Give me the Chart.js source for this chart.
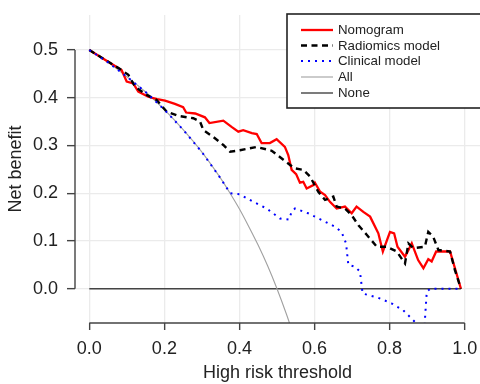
<!DOCTYPE html>
<html>
<head>
<meta charset="utf-8">
<script src="https://cdn.jsdelivr.net/npm/chart.js@4/dist/chart.umd.min.js"></script>
<style>
html,body{margin:0;padding:0;background:#fff;}
#wrap{width:480px;height:384px;position:relative;}
</style>
</head>
<body>
<div id="wrap"><canvas id="c" width="480" height="384"></canvas></div>
<script>
// ---- data ----
const xTicks = [0, 0.2, 0.4, 0.6, 0.8, 1.0];
const yTicks = [0, 0.1, 0.2, 0.3, 0.4, 0.5];

const nomoX = [0, 0.086, 0.0996, 0.117, 0.1305, 0.157, 0.181, 0.2017, 0.228, 0.250, 0.258, 0.282, 0.308, 0.320, 0.357, 0.379, 0.397, 0.410, 0.433, 0.446, 0.459, 0.481, 0.499, 0.521, 0.530, 0.539, 0.551, 0.561, 0.570, 0.579, 0.597, 0.601, 0.615, 0.628, 0.641, 0.659, 0.681, 0.699, 0.712, 0.730, 0.748, 0.770, 0.782, 0.801, 0.812, 0.821, 0.841, 0.859, 0.876, 0.890, 0.903, 0.912, 0.924, 0.961, 0.99];
const nomoY = [0.5, 0.458, 0.434, 0.430, 0.413, 0.402, 0.397, 0.394, 0.387, 0.380, 0.369, 0.367, 0.359, 0.347, 0.352, 0.339, 0.329, 0.332, 0.326, 0.324, 0.305, 0.305, 0.313, 0.297, 0.280, 0.249, 0.240, 0.222, 0.224, 0.210, 0.217, 0.222, 0.203, 0.196, 0.182, 0.168, 0.172, 0.158, 0.172, 0.161, 0.151, 0.116, 0.078, 0.119, 0.116, 0.088, 0.067, 0.095, 0.060, 0.043, 0.062, 0.057, 0.078, 0.078, 0.0];

const radX = [0, 0.086, 0.104, 0.122, 0.153, 0.180, 0.206, 0.237, 0.277, 0.295, 0.304, 0.330, 0.357, 0.375, 0.401, 0.446, 0.486, 0.517, 0.535, 0.548, 0.570, 0.588, 0.610, 0.628, 0.650, 0.659, 0.681, 0.699, 0.717, 0.739, 0.766, 0.792, 0.819, 0.841, 0.850, 0.863, 0.894, 0.903, 0.916, 0.930, 0.961, 0.974, 0.99];
const radY = [0.5, 0.458, 0.448, 0.423, 0.406, 0.395, 0.371, 0.362, 0.357, 0.350, 0.332, 0.318, 0.301, 0.287, 0.290, 0.297, 0.289, 0.270, 0.259, 0.252, 0.249, 0.235, 0.203, 0.186, 0.193, 0.172, 0.168, 0.154, 0.133, 0.113, 0.088, 0.088, 0.078, 0.053, 0.095, 0.085, 0.088, 0.119, 0.109, 0.081, 0.078, 0.039, 0.0];

const clinX = [0, 0.05, 0.1, 0.15, 0.2, 0.25, 0.3, 0.35, 0.375, 0.40, 0.437, 0.4725, 0.508, 0.532, 0.539, 0.548, 0.583, 0.619, 0.654, 0.672, 0.684, 0.690, 0.708, 0.721, 0.728, 0.770, 0.806, 0.836, 0.868, 0.893, 0.899, 0.908, 0.99];
const clinY = [0.5, 0.474, 0.444, 0.412, 0.375, 0.333, 0.286, 0.231, 0.2, 0.198, 0.182, 0.168, 0.147, 0.145, 0.161, 0.168, 0.158, 0.144, 0.130, 0.119, 0.095, 0.050, 0.046, 0.036, -0.010, -0.019, -0.031, -0.045, -0.070, -0.078, -0.006, 0.0, 0.0];

const allX = [0, 0.05, 0.1, 0.15, 0.2, 0.25, 0.3, 0.35, 0.375, 0.4, 0.425, 0.45, 0.475, 0.5, 0.525, 0.55];
const allY = [0.5, 0.474, 0.444, 0.412, 0.375, 0.333, 0.286, 0.231, 0.2, 0.167, 0.130, 0.091, 0.048, 0.0, -0.053, -0.111];

const noneX = [0, 0.99];
const noneY = [0, 0];

const seriesNames = ["Nomogram", "Radiomics model", "Clinical model", "All", "None"];

function pts(xs, ys) { return xs.map((x, i) => ({x: x, y: ys[i]})); }

const FONT = "'Liberation Sans', Arial, Helvetica, sans-serif";

const styles = {
  "Nomogram": {color: "#ff0000", width: 2.3, dash: []},
  "Radiomics model": {color: "#000000", width: 2.4, dash: [6, 4.5]},
  "Clinical model": {color: "#0000ff", width: 2, dash: [2, 5]},
  "All": {color: "#a0a0a0", width: 1.1, dash: []},
  "None": {color: "#444444", width: 1.4, dash: []}
};

const axisPlugin = {
  id: 'axisLines',
  afterDraw(chart) {
    const ctx = chart.ctx;
    const xs = chart.scales.x, ys = chart.scales.y;
    ctx.save();
    ctx.strokeStyle = '#444';
    ctx.lineWidth = 1.4;
    ctx.beginPath();
    const ax = chart.chartArea.left;
    ctx.moveTo(ax, ys.getPixelForValue(0.5));
    ctx.lineTo(ax, ys.getPixelForValue(0));
    const ay = chart.chartArea.bottom;
    ctx.moveTo(xs.getPixelForValue(0), ay);
    ctx.lineTo(xs.getPixelForValue(1), ay);
    ctx.stroke();

    // legend
    const lx = 287, ly = 14, lw = 200, lh = 94;
    ctx.fillStyle = '#fff';
    ctx.fillRect(lx, ly, lw, lh);
    ctx.strokeStyle = '#222';
    ctx.lineWidth = 1.6;
    ctx.strokeRect(lx, ly, lw, lh);
    const rowY = [30, 45.5, 61, 77, 93];
    ctx.font = "13.3px " + FONT;
    ctx.textBaseline = 'middle';
    ctx.textAlign = 'left';
    seriesNames.forEach((n, i) => {
      const s = styles[n];
      ctx.beginPath();
      ctx.strokeStyle = s.color;
      ctx.lineWidth = s.width;
      ctx.setLineDash(s.dash);
      ctx.moveTo(301, rowY[i]);
      ctx.lineTo(333, rowY[i]);
      ctx.stroke();
      ctx.setLineDash([]);
      ctx.fillStyle = '#222';
      ctx.fillText(n, 338, rowY[i] + 0.5);
    });
    ctx.restore();
  }
};

function ds(name, xs, ys, extra) {
  const s = styles[name];
  return Object.assign({
    label: name,
    data: pts(xs, ys),
    showLine: true,
    borderColor: s.color,
    backgroundColor: s.color,
    borderWidth: s.width,
    borderDash: s.dash,
    pointRadius: 0,
    pointHoverRadius: 0,
    tension: 0,
    fill: false
  }, extra || {});
}

new Chart(document.getElementById('c'), {
  type: 'scatter',
  data: {
    datasets: [
      ds("Clinical model", clinX, clinY),
      ds("Radiomics model", radX, radY),
      ds("Nomogram", nomoX, nomoY),
      ds("All", allX, allY, {cubicInterpolationMode: 'monotone'}),
      ds("None", noneX, noneY)
    ]
  },
  options: {
    responsive: false,
    animation: false,
    devicePixelRatio: 1,
    layout: {padding: {top: 15, right: 0, left: 0, bottom: 0}},
    plugins: {legend: {display: false}, tooltip: {enabled: false}},
    scales: {
      x: {
        type: 'linear',
        min: -0.0381, max: 1.0408,
        afterBuildTicks: (s) => { s.ticks = xTicks.map(v => ({value: v})); },
        afterFit: (s) => { s.height = 61; s.paddingLeft = 0; s.paddingRight = 0; },
        ticks: {
          callback: (v) => Number(v).toFixed(1),
          font: {family: FONT, size: 18},
          color: '#222',
          padding: 8,
          maxRotation: 0,
          autoSkip: false
        },
        grid: {color: '#ebebeb', lineWidth: 1.3, tickColor: '#444', tickLength: 7, tickWidth: 1.4},
        border: {display: false},
        title: {display: true, text: 'High risk threshold', font: {family: FONT, size: 18}, color: '#222', padding: {top: 0, bottom: 0}}
      },
      y: {
        type: 'linear',
        min: -0.0718, max: 0.5733,
        afterBuildTicks: (s) => { s.ticks = yTicks.map(v => ({value: v})); },
        afterFit: (s) => { s.width = 75; s.paddingTop = 0; s.paddingBottom = 0; },
        ticks: {
          callback: (v) => Number(v).toFixed(1),
          font: {family: FONT, size: 18},
          color: '#222',
          padding: 9,
          autoSkip: false
        },
        grid: {color: '#ebebeb', lineWidth: 1.3, tickColor: '#444', tickLength: 8, tickWidth: 1.4},
        border: {display: false},
        title: {display: true, text: 'Net benefit', font: {family: FONT, size: 18}, color: '#222', padding: {top: 5, bottom: 0}}
      }
    }
  },
  plugins: [axisPlugin]
});
</script>
</body>
</html>
